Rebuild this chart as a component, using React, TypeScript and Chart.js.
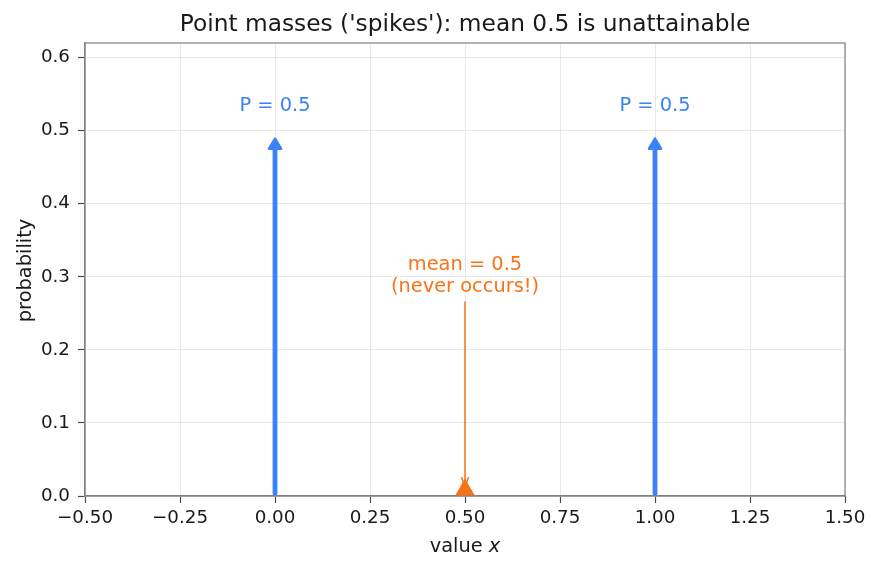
import React, { useEffect, useRef } from "react";
import { Chart, registerables } from "chart.js";
Chart.register(...registerables);

const TITLE = "Point masses ('spikes'): mean 0.5 is unattainable";
const X_LABEL = "value ";
const X_LABEL_VAR = "x";
const Y_LABEL = "probability";
const spikeX = [0, 1];
const spikeProb = [0.5, 0.5];
const spikeLabels = ["P = 0.5", "P = 0.5"];
const meanX = [0.5];
const meanY = [0];
const meanLabelY = 0.28;
const meanLabelLines = ["mean = 0.5", "(never occurs!)"];
const xTicks = [-0.5, -0.25, 0, 0.25, 0.5, 0.75, 1, 1.25, 1.5];
const yTicks = [0, 0.1, 0.2, 0.3, 0.4, 0.5, 0.6];
const xRange = [-0.5, 1.5];
const yRange = [0, 0.62];

const BLUE = "#3b82f6";
const ORANGE = "#f97316";
const TEXT = "#1a1a1a";
const SPINE = "#808080";
const TICK = "#4a4a4a";
const GRID = "#e3e3e3";
const FONT = "'DejaVu Sans', sans-serif";
const TICK_SIZE = 18.3;
const LABEL_SIZE = 19.4;
const TITLE_SIZE = 23.3;

const fmt = (v: number, d: number) => {
  const s = Math.abs(v).toFixed(d);
  return v < 0 ? "\u2212" + s : s;
};

const annotPlugin = {
  id: "annot",
  afterDatasetsDraw(chart: any) {
    const ctx = chart.ctx;
    const xs = chart.scales.x;
    const ys = chart.scales.y;
    const y0 = ys.getPixelForValue(0);
    ctx.save();
    // blue spikes with arrow heads
    spikeX.forEach((xv, i) => {
      const px = xs.getPixelForValue(xv);
      const pTop = ys.getPixelForValue(spikeProb[i]);
      const tip = pTop + 8;
      ctx.strokeStyle = BLUE;
      ctx.fillStyle = BLUE;
      ctx.lineCap = "round";
      ctx.lineJoin = "round";
      ctx.lineWidth = 4.8;
      ctx.beginPath();
      ctx.moveTo(px, y0 - 2.5);
      ctx.lineTo(px, tip + 8);
      ctx.stroke();
      ctx.lineWidth = 2.5;
      ctx.beginPath();
      ctx.moveTo(px, tip);
      ctx.lineTo(px - 6, tip + 10);
      ctx.lineTo(px + 6, tip + 10);
      ctx.closePath();
      ctx.fill();
      ctx.stroke();
      ctx.font = `${LABEL_SIZE}px ${FONT}`;
      ctx.textAlign = "center";
      ctx.textBaseline = "alphabetic";
      ctx.fillText(spikeLabels[i], px, pTop - 20);
    });
    // mean annotation
    const mx = xs.getPixelForValue(meanX[0]);
    const ly = ys.getPixelForValue(meanLabelY);
    ctx.fillStyle = ORANGE;
    ctx.strokeStyle = ORANGE;
    ctx.font = `${LABEL_SIZE}px ${FONT}`;
    ctx.textAlign = "center";
    ctx.textBaseline = "alphabetic";
    ctx.fillText(meanLabelLines[0], mx, ly - 21);
    ctx.fillText(meanLabelLines[1], mx, ly + 1);
    ctx.lineWidth = 1.5;
    ctx.lineCap = "butt";
    ctx.beginPath();
    ctx.moveTo(mx, ly + 10);
    ctx.lineTo(mx, y0 - 2);
    ctx.stroke();
    ctx.lineJoin = "miter";
    ctx.beginPath();
    ctx.moveTo(mx - 3.5, y0 - 19);
    ctx.lineTo(mx, y0 - 9);
    ctx.lineTo(mx + 3.5, y0 - 19);
    ctx.stroke();
    ctx.restore();
  },
  afterDraw(chart: any) {
    const ctx = chart.ctx;
    const a = chart.chartArea;
    ctx.save();
    ctx.strokeStyle = SPINE;
    ctx.lineWidth = 1.2;
    ctx.strokeRect(a.left, a.top, a.right - a.left, a.bottom - a.top);
    // title
    const cx = (a.left + a.right) / 2;
    ctx.fillStyle = TEXT;
    ctx.textAlign = "center";
    ctx.textBaseline = "alphabetic";
    ctx.font = `${TITLE_SIZE}px ${FONT}`;
    ctx.fillText(TITLE, cx, 31);
    // x label with italic variable
    ctx.font = `${LABEL_SIZE}px ${FONT}`;
    const w1 = ctx.measureText(X_LABEL).width;
    ctx.font = `italic ${LABEL_SIZE}px ${FONT}`;
    const w2 = ctx.measureText(X_LABEL_VAR).width;
    const sx = cx - (w1 + w2) / 2;
    ctx.textAlign = "left";
    ctx.font = `${LABEL_SIZE}px ${FONT}`;
    ctx.fillText(X_LABEL, sx, 552);
    ctx.font = `italic ${LABEL_SIZE}px ${FONT}`;
    ctx.fillText(X_LABEL_VAR, sx + w1, 552);
    // y label
    ctx.save();
    ctx.translate(31, (a.top + a.bottom) / 2 + 1);
    ctx.rotate(-Math.PI / 2);
    ctx.textAlign = "center";
    ctx.textBaseline = "alphabetic";
    ctx.font = `${LABEL_SIZE}px ${FONT}`;
    ctx.fillText(Y_LABEL, 0, 0);
    ctx.restore();
    ctx.restore();
  },
};

export default function App() {
  const ref = useRef<HTMLCanvasElement>(null);
  useEffect(() => {
    const chart = new Chart(ref.current!, {
      type: "scatter",
      data: {
        datasets: [
          {
            label: "mean",
            data: meanX.map((x, i) => ({ x, y: meanY[i] })),
            pointStyle: "triangle",
            pointRadius: 16,
            backgroundColor: ORANGE,
            borderColor: ORANGE,
            borderWidth: 1.5,
            clip: 0,
          } as any,
        ],
      },
      options: {
        animation: false,
        responsive: false,
        devicePixelRatio: 1,
        layout: { padding: { top: 43, right: 35, left: 0, bottom: 0 } },
        plugins: { legend: { display: false }, title: { display: false }, tooltip: { enabled: false } },
        scales: {
          x: {
            type: "linear",
            min: xRange[0],
            max: xRange[1],
            afterBuildTicks: (s: any) => { s.ticks = xTicks.map((v) => ({ value: v })); },
            afterFit: (s: any) => { s.height = 73; },
            ticks: { callback: (v: any) => fmt(Number(v), 2), font: { family: FONT, size: TICK_SIZE }, color: TEXT, padding: 4, maxRotation: 0, autoSkip: false },
            grid: { color: GRID, lineWidth: 0.8, tickColor: TICK, tickLength: 7, tickWidth: 1.2 },
            border: { color: SPINE, width: 1.2 },
          },
          y: {
            type: "linear",
            min: yRange[0],
            max: yRange[1],
            afterBuildTicks: (s: any) => { s.ticks = yTicks.map((v) => ({ value: v })); },
            afterFit: (s: any) => { s.width = 85; },
            ticks: { callback: (v: any) => fmt(Number(v), 1), font: { family: FONT, size: TICK_SIZE }, color: TEXT, padding: 8, autoSkip: false },
            grid: { color: GRID, lineWidth: 0.8, tickColor: TICK, tickLength: 7, tickWidth: 1.2 },
            border: { color: SPINE, width: 1.2 },
          },
        },
      },
      plugins: [annotPlugin],
    });
    return () => chart.destroy();
  }, []);
  return (
    <div style={{ position: "absolute", left: 0, top: 0, width: 880, height: 569, background: "#fff" }}>
      <canvas ref={ref} width={880} height={569} style={{ display: "block" }} />
    </div>
  );
}
